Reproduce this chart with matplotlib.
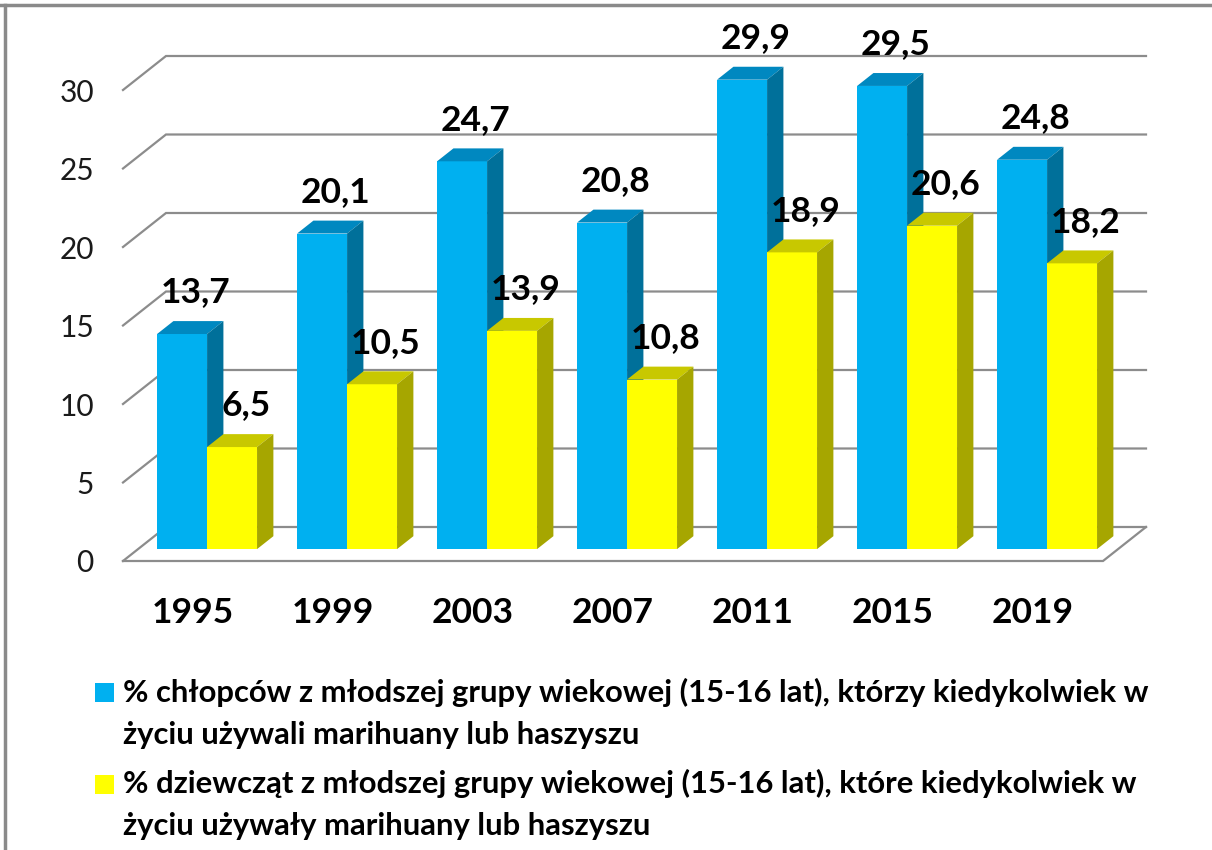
import matplotlib
matplotlib.use("Agg")
import matplotlib.pyplot as plt
from matplotlib.patches import Polygon, Rectangle
from matplotlib.lines import Line2D

plt.rcParams['font.family'] = ['Lato', 'DejaVu Sans']

years = ['1995', '1999', '2003', '2007', '2011', '2015', '2019']
boys = [13.7, 20.1, 24.7, 20.8, 29.9, 29.5, 24.8]
girls = [6.5, 10.5, 13.9, 10.8, 18.9, 20.6, 18.2]
yticks = [0, 5, 10, 15, 20, 25, 30]
legend_labels = [
    ['% chłopców z młodszej grupy wiekowej (15-16 lat), którzy kiedykolwiek w',
     'życiu używali marihuany lub haszyszu'],
    ['% dziewcząt z młodszej grupy wiekowej (15-16 lat), które kiedykolwiek w',
     'życiu używały marihuany lub haszyszu'],
]

# colours: front, top, side
blue = ('#00b0f0', '#0088c0', '#00709a')
yellow = ('#ffff00', '#c8c800', '#a6a600')
grid_c = '#8c8c8c'

W, H = 1212, 850
fig = plt.figure(figsize=(W / 100, H / 100), dpi=100)
ax = fig.add_axes([123 / W, (H - 561) / H, 980 / W, 471 / H])
ax.set_xlim(0, 7)
ax.set_ylim(0, 30)
for s in ax.spines.values():
    s.set_visible(False)

# depth of the floor in data units (oblique projection)
DX, DY = 43 / 140, 34 / 15.7
f0, fb = 0.35, 0.38          # bar front depth and bar depth (fractions of floor)
gap, bw = 0.136, 0.357       # left gap in slot, bar width

# walls / gridlines
for v in yticks:
    ax.plot([0, DX, 7 + DX], [v, v + DY, v + DY], color=grid_c, lw=1.6,
            zorder=1, clip_on=False, solid_joinstyle='miter')
ax.plot([0, 7, 7 + DX], [0, 0, DY], color=grid_c, lw=1.6, zorder=1,
        clip_on=False, solid_joinstyle='miter')


def bar3d(x, v, cols):
    y0 = f0 * DY
    y1 = v + y0
    bx, by = fb * DX, fb * DY
    front = Polygon([(x, y0), (x + bw, y0), (x + bw, y1), (x, y1)],
                    closed=True, fc=cols[0], ec='none', zorder=3, clip_on=False)
    top = Polygon([(x, y1), (x + bw, y1), (x + bw + bx, y1 + by), (x + bx, y1 + by)],
                  closed=True, fc=cols[1], ec='none', zorder=3, clip_on=False)
    side = Polygon([(x + bw, y0), (x + bw + bx, y0 + by), (x + bw + bx, y1 + by), (x + bw, y1)],
                   closed=True, fc=cols[2], ec='none', zorder=3, clip_on=False)
    for p in (front, top, side):
        ax.add_patch(p)
    ax.annotate(f'{v:.1f}'.replace('.', ','), (x + bw / 2, y1),
                xytext=(10, 30), textcoords='offset points',
                ha='center', va='center', fontsize=25.5, fontweight='bold',
                zorder=6, annotation_clip=False)


for i in range(len(years)):
    xb = i + gap + f0 * DX
    bar3d(xb, boys[i], blue)
    bar3d(xb + bw, girls[i], yellow)

ax.set_yticks(yticks)
ax.set_yticklabels([str(t) for t in yticks], fontsize=21.5, color='#1a1a1a')
ax.set_xticks([i + 0.5 for i in range(len(years))])
ax.set_xticklabels(years, fontsize=25.5, fontweight='bold')
ax.tick_params(axis='y', length=0, pad=21)
ax.tick_params(axis='x', length=0, pad=26)

# legend drawn by hand
for k, (lines, c) in enumerate(zip(legend_labels, [blue[0], yellow[0]])):
    ytop = 683 + k * 92
    fig.add_artist(Rectangle((95 / W, 1 - (ytop + 19) / H), 19 / W, 19 / H,
                             transform=fig.transFigure, fc=c, ec='none'))
    for j, line in enumerate(lines):
        fig.text(123 / W, 1 - (702 + k * 91 + j * 42) / H, line, fontsize=22.3,
                 fontweight='bold', ha='left', va='baseline')

# border of the original frame
fig.add_artist(Line2D([0, 1], [1 - 5 / H, 1 - 5 / H], transform=fig.transFigure,
                      color='#8a8a8a', lw=2.5))
fig.add_artist(Line2D([5 / W, 5 / W], [0, 1 - 5 / H], transform=fig.transFigure,
                      color='#8a8a8a', lw=2.5))

fig.savefig('out.png', dpi=100)
